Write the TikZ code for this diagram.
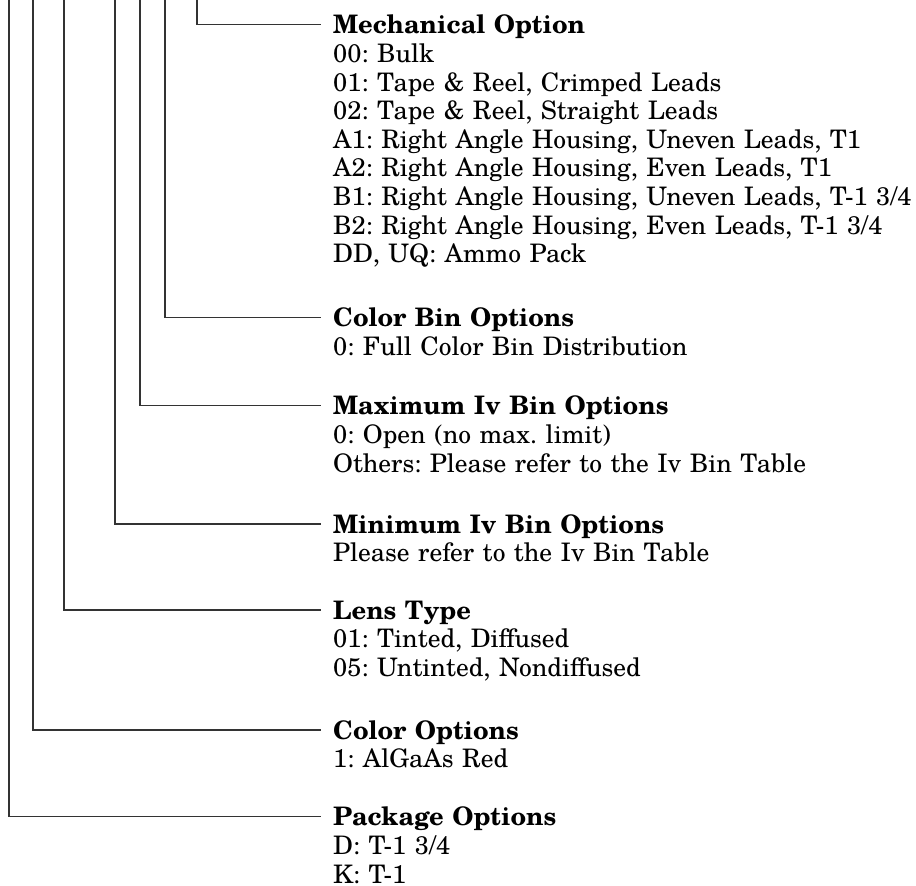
\documentclass[tikz,border=0pt]{standalone}
\usepackage{fontspec}
\setmainfont{texgyreschola}[Extension=.otf, UprightFont=*-regular, BoldFont=*-bold, ItalicFont=*-italic, BoldItalicFont=*-bolditalic]
\usetikzlibrary{calc}
\frenchspacing
\begin{document}
\begin{tikzpicture}[x=1pt,y=-1pt,
  conn/.style={line width=1.2pt, draw=black!80},
  block/.style={anchor=base west, inner sep=0pt, text width=590pt, align=left,
                font=\fontsize{25.5}{28.6}\selectfont}]
\useasboundingbox (0,0) rectangle (916,886);
\node[block] (mech) at (333,33.9) {\textbf{Mechanical Option}\\
00: Bulk\\
01: Tape \& Reel, Crimped Leads\\
02: Tape \& Reel, Straight Leads\\
A1: Right Angle Housing, Uneven Leads, T1\\
A2: Right Angle Housing, Even Leads, T1\\
B1: Right Angle Housing, Uneven Leads, T-1 3/4\\
B2: Right Angle Housing, Even Leads, T-1 3/4\\
DD, UQ: Ammo Pack};
\node[block] (cbin) at (333,326.9) {\textbf{Color Bin Options}\\
0: Full Color Bin Distribution};
\node[block] (maxiv) at (333,414.9) {\textbf{Maximum Iv Bin Options}\\
0: Open (no max. limit)\\
Others: Please refer to the Iv Bin Table};
\node[block] (miniv) at (333,533.2) {\textbf{Minimum Iv Bin Options}\\
Please refer to the Iv Bin Table};
\node[block] (lens) at (333,619.2) {\textbf{Lens Type}\\
01: Tinted, Diffused\\
05: Untinted, Nondiffused};
\node[block] (colr) at (333,739.2) {\textbf{Color Options}\\
1: AlGaAs Red};
\node[block] (pack) at (333,825.9) {\textbf{Package Options}\\
D: T-1 3/4\\
K: T-1};
\coordinate (t1) at (197,0);
\coordinate (t2) at (165,0);
\coordinate (t3) at (140,0);
\coordinate (t4) at (115,0);
\coordinate (t5) at (64,0);
\coordinate (t6) at (33,0);
\coordinate (t7) at (9,0);
\draw[conn] (t1) |- ($(mech.base west)+(-12,-9.2)$);
\draw[conn] (t2) |- ($(cbin.base west)+(-12,-9.2)$);
\draw[conn] (t3) |- ($(maxiv.base west)+(-12,-9.2)$);
\draw[conn] (t4) |- ($(miniv.base west)+(-12,-9.2)$);
\draw[conn] (t5) |- ($(lens.base west)+(-12,-9.2)$);
\draw[conn] (t6) |- ($(colr.base west)+(-12,-9.2)$);
\draw[conn] (t7) |- ($(pack.base west)+(-12,-9.2)$);
\end{tikzpicture}
\end{document}
